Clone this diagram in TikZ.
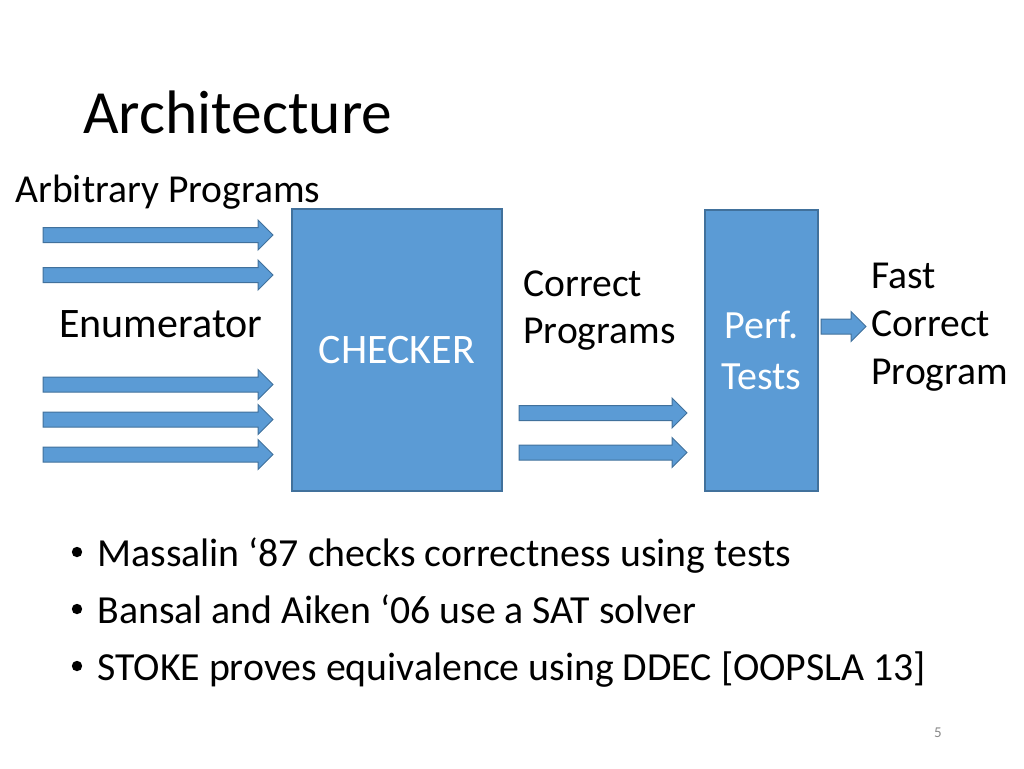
\documentclass[tikz,border=0pt]{standalone}
\usepackage{fontspec}
\setmainfont{Carlito}
\definecolor{boxblue}{HTML}{5B9BD5}
\definecolor{boxedge}{HTML}{41719C}
\definecolor{pagegray}{HTML}{898989}

% block arrow: start x, tip x, centre y (in px units)
\newcommand{\fatarrow}[3]{%
  \filldraw[fatarrow] (#1,#3-7.5) -- (#2-15,#3-7.5) -- (#2-15,#3-15) -- (#2,#3)
    -- (#2-15,#3+15) -- (#2-15,#3+7.5) -- (#1,#3+7.5) -- cycle;}

\tikzset{
  stage/.style={draw=boxedge, fill=boxblue, line width=0.6pt, text=white,
    align=center, inner sep=0},
  lbl/.style={anchor=base west, inner sep=0, font=\fontsize{19.8}{24}\selectfont},
  fatarrow/.style={draw=boxedge, fill=boxblue, line width=0.5pt},
}

\begin{document}
\begin{tikzpicture}[x=0.5pt, y=-0.5pt]
    \useasboundingbox (0,0) rectangle (1024,768);

    % Title
    \node[lbl, font=\fontsize{30.7}{36}\selectfont] (title) at (83,133) {Architecture};
    \node[lbl] (arbitrary) at (15,202) {Arbitrary Programs};

    % Stages
    \node[stage, minimum width=105pt, minimum height=141pt,
          font=\fontsize{21}{25}\selectfont] (checker) at (397,350) {CHECKER};
    \node[stage, minimum width=56.5pt, minimum height=140.5pt,
          font=\fontsize{20}{25.5}\selectfont] (perf) at (761.5,350.5) {Perf.\\Tests};

    % Enumerator feeding the checker
    \node[lbl, font=\fontsize{21}{25}\selectfont] (enum) at (59,337) {Enumerator};
    \foreach \y in {235,275,384.5,419.5,454.5} {
        \fatarrow{43}{273}{\y}
    }

    % Checker to performance tests
    \node[lbl] (correct) at (523,296) {Correct};
    \node[lbl] (programs) at (523,343) {Programs};
    \foreach \y in {413,452.5} {
        \fatarrow{519}{687}{\y}
    }

    % Output
    \fatarrow{821}{866}{326.5}
    \node[lbl] (fast) at (871,288) {Fast};
    \node[lbl] (fastcorrect) at (871,336) {Correct};
    \node[lbl] (fastprogram) at (871,384) {Program};

    % Bullets
    \foreach \t [count=\i] in {Massalin ‘87 checks correctness using tests,
                               Bansal and Aiken ‘06 use a SAT solver,
                               STOKE proves equivalence using DDEC [OOPSLA 13]} {
        \fill (77,495+57*\i) circle (2.6pt) coordinate (dot\i);
        \node[lbl, font=\fontsize{19.9}{24}\selectfont] (point\i) at (97,509+57*\i) {\t};
    }

    \node[text=pagegray, font=\fontsize{7.5}{9}\selectfont] (page) at (938,733) {5};
\end{tikzpicture}
\end{document}
